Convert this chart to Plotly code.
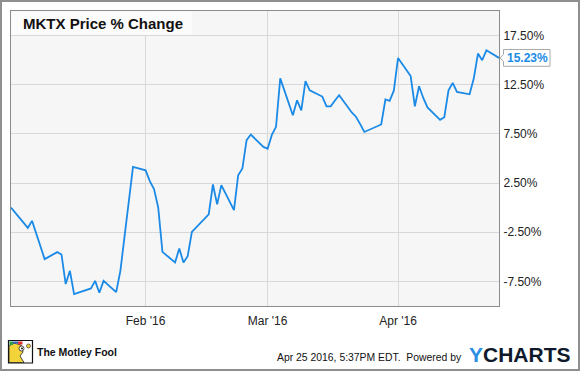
import plotly.graph_objects as go

# ---------------- data ----------------
dates = [
    "2015-12-31",
    "2016-01-04", "2016-01-05", "2016-01-06", "2016-01-07", "2016-01-08",
    "2016-01-11", "2016-01-12", "2016-01-13", "2016-01-14", "2016-01-15",
    "2016-01-19", "2016-01-20", "2016-01-21", "2016-01-22",
    "2016-01-25", "2016-01-26", "2016-01-27", "2016-01-28", "2016-01-29",
    "2016-02-01", "2016-02-02", "2016-02-03", "2016-02-04", "2016-02-05",
    "2016-02-08", "2016-02-09", "2016-02-10", "2016-02-11", "2016-02-12",
    "2016-02-16", "2016-02-17", "2016-02-18", "2016-02-19",
    "2016-02-22", "2016-02-23", "2016-02-24", "2016-02-25", "2016-02-26",
    "2016-02-29", "2016-03-01", "2016-03-02", "2016-03-03", "2016-03-04",
    "2016-03-07", "2016-03-08", "2016-03-09", "2016-03-10", "2016-03-11",
    "2016-03-14", "2016-03-15", "2016-03-16", "2016-03-17", "2016-03-18",
    "2016-03-21", "2016-03-22", "2016-03-23", "2016-03-24",
    "2016-03-28", "2016-03-29", "2016-03-30", "2016-03-31", "2016-04-01",
    "2016-04-04", "2016-04-05", "2016-04-06", "2016-04-07", "2016-04-08",
    "2016-04-11", "2016-04-12", "2016-04-13", "2016-04-14", "2016-04-15",
    "2016-04-18", "2016-04-19", "2016-04-20", "2016-04-21", "2016-04-22",
    "2016-04-25",
]
pct_change = [
    0.0,
    -2.05, -1.34, -2.6, -3.9, -5.23,
    -4.52, -4.76, -7.77, -6.42, -8.79,
    -8.21, -7.44, -8.66, -7.44,
    -8.59, -6.42, -3.0, 0.6, 4.15,
    3.8, 2.7, 1.9, 0.0, -4.5,
    -5.57, -4.15, -5.57, -4.93, -2.46,
    -0.69, 2.36, 0.33, 2.29,
    -0.25, 3.3, 3.98, 6.86, 7.44,
    6.18, 6.0, 7.4, 8.22, 13.15,
    9.4, 10.92, 9.9, 12.88, 11.94,
    11.3, 10.31, 10.31, 10.9, 11.43,
    9.68, 9.25, 8.5, 7.7,
    8.46, 11.0, 10.86, 11.9, 15.22,
    13.38, 10.31, 12.35, 11.16, 10.2,
    8.93, 9.2, 11.94, 12.68, 11.77,
    11.53, 13.13, 15.67, 14.99, 16.0,
    15.23,
]
y_tickvals = [-7.5, -2.5, 2.5, 7.5, 12.5, 17.5]
y_ticktext = ["-7.50%", "-2.50%", "2.50%", "7.50%", "12.50%", "17.50%"]
x_tickvals = ["2016-02-01", "2016-03-01", "2016-04-01"]
x_ticktext = ["Feb '16", "Mar '16", "Apr '16"]
title_text = "MKTX Price % Change"
footer_text = "Apr 25 2016, 5:37PM EDT.  Powered by"

# ---------------- layout helpers ----------------
W, H = 580, 371
ML, MR, MT, MB = 11, 81, 11, 65
PW, PH = W - ML - MR, H - MT - MB


def px(x):
    return (x - ML) / PW


def py(y):
    return 1 - (y - MT) / PH


FONT = "Liberation Sans, Arial, sans-serif"
LINE_BLUE = "#1a8ae6"

fig = go.Figure()
fig.add_trace(go.Scatter(
    x=dates, y=pct_change, mode="lines",
    line=dict(color=LINE_BLUE, width=1.8),
    hoverinfo="skip", showlegend=False,
))

shapes = []
annotations = []

# outer frame
shapes.append(dict(type="rect", xref="paper", yref="paper",
                   x0=px(1), x1=px(579), y0=py(1), y1=py(370),
                   line=dict(color="#8f8f8f", width=2), fillcolor="rgba(0,0,0,0)",
                   layer="below"))

# title box
shapes.append(dict(type="rect", xref="paper", yref="paper",
                   x0=px(ML + 0.5), x1=px(192), y0=py(35), y1=py(MT + 0.5),
                   line=dict(width=0), fillcolor="#fbfbfb", layer="above"))
annotations.append(dict(text="<b>" + title_text + "</b>", xref="paper", yref="paper",
                        x=px(20.5), y=py(23.5), xanchor="left", yanchor="middle",
                        showarrow=False, font=dict(family=FONT, size=15, color="#111111")))

# last value callout
last_val = pct_change[-1]
half = 0.85
x_l, x_r, x_tip = px(503.5), px(550), px(500)
path = (f"M {x_l},{last_val + half} L {x_r},{last_val + half} "
        f"L {x_r},{last_val - half} L {x_l},{last_val - half} "
        f"L {x_l},{last_val - 0.35} L {x_tip},{last_val} L {x_l},{last_val + 0.35} Z")
shapes.append(dict(type="path", xref="paper", yref="y", path=path,
                   fillcolor="#ffffff", line=dict(color="#a8a8a8", width=1), layer="above"))
annotations.append(dict(text=f"<b>{last_val:.2f}%</b>", xref="paper", yref="y",
                        x=(x_l + x_r) / 2 + 0.001, y=last_val, xanchor="center", yanchor="middle",
                        showarrow=False, font=dict(family=FONT, size=12, color=LINE_BLUE)))

# footer: Motley Fool logo (approximation)
shapes.append(dict(type="rect", xref="paper", yref="paper",
                   x0=px(8.5), x1=px(32.5), y0=py(363), y1=py(340.5),
                   fillcolor="#ffffff", line=dict(color="#111111", width=1.2)))
shapes.append(dict(type="path", xref="paper", yref="paper",
                   path=(f"M {px(9)},{py(362.5)} L {px(9)},{py(346)} L {px(14)},{py(343)} "
                         f"L {px(21)},{py(345)} L {px(23)},{py(352)} L {px(20)},{py(356)} "
                         f"L {px(24)},{py(362.5)} Z"),
                   fillcolor="#f2d43a", line=dict(color="#222222", width=0.8)))
shapes.append(dict(type="rect", xref="paper", yref="paper",
                   x0=px(9.5), x1=px(13), y0=py(345), y1=py(341.5),
                   fillcolor="#2a9d4a", line=dict(width=0)))
shapes.append(dict(type="rect", xref="paper", yref="paper",
                   x0=px(18), x1=px(22.5), y0=py(344.5), y1=py(341.5),
                   fillcolor="#e03030", line=dict(width=0)))
shapes.append(dict(type="rect", xref="paper", yref="paper",
                   x0=px(13), x1=px(18), y0=py(343.5), y1=py(341.5),
                   fillcolor="#3060c0", line=dict(width=0)))
shapes.append(dict(type="circle", xref="paper", yref="paper",
                   x0=px(19), x1=px(24), y0=py(351), y1=py(346),
                   fillcolor="#ffffff", line=dict(color="#222222", width=0.8)))
shapes.append(dict(type="circle", xref="paper", yref="paper",
                   x0=px(21), x1=px(23), y0=py(349.5), y1=py(347.5),
                   fillcolor="#222222", line=dict(width=0)))
shapes.append(dict(type="circle", xref="paper", yref="paper",
                   x0=px(26.5), x1=px(30.5), y0=py(348), y1=py(344),
                   fillcolor="#f2d43a", line=dict(color="#222222", width=0.6)))
annotations.append(dict(text="<b>The Motley Fool</b>", xref="paper", yref="paper",
                        x=px(35), y=py(352), xanchor="left", yanchor="middle",
                        showarrow=False,
                        font=dict(family=FONT, size=10.5, color="#111111")))

# footer: timestamp + YCharts
annotations.append(dict(text=footer_text, xref="paper", yref="paper",
                        x=px(463.5), y=py(357), xanchor="right", yanchor="middle",
                        showarrow=False, font=dict(family=FONT, size=10.4, color="#111111")))
annotations.append(dict(text="<b><span style='color:#2a8ee6'>Y</span>CHARTS</b>",
                        xref="paper", yref="paper",
                        x=px(467), y=py(354.5), xanchor="left", yanchor="middle",
                        showarrow=False, font=dict(family=FONT, size=21, color="#0e1a2b")))

fig.update_layout(
    width=W, height=H,
    margin=dict(l=ML, r=MR, t=MT, b=MB, pad=0),
    paper_bgcolor="#ffffff",
    plot_bgcolor="#f6f6f6",
    shapes=shapes,
    annotations=annotations,
    showlegend=False,
    xaxis=dict(
        type="date",
        range=["2015-12-31", "2016-04-25"],
        tickvals=x_tickvals, ticktext=x_ticktext,
        showgrid=True, gridcolor="#d8d8d8", gridwidth=1,
        showline=True, linecolor="#8c8c8c", linewidth=1, mirror=True,
        ticks="", ticklabelstandoff=4,
        tickfont=dict(family=FONT, size=12, color="#222222"),
        zeroline=False, fixedrange=True,
    ),
    yaxis=dict(
        range=[-10, 20], side="right",
        tickvals=y_tickvals, ticktext=y_ticktext,
        showgrid=True, gridcolor="#d8d8d8", gridwidth=1,
        showline=True, linecolor="#8c8c8c", linewidth=1, mirror=True,
        ticks="", ticklabelstandoff=1,
        tickfont=dict(family=FONT, size=12, color="#222222"),
        zeroline=False, fixedrange=True,
    ),
)

fig.write_html("out.html", config={"displayModeBar": False})
